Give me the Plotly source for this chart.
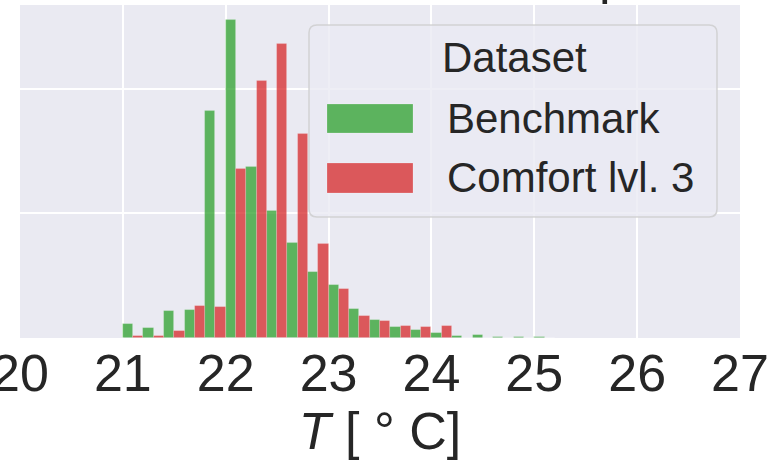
import plotly.graph_objects as go

# ---------------- data ----------------
bin_centers = [21.1, 21.3, 21.5, 21.7, 21.9, 22.1, 22.3, 22.5, 22.7, 22.9,
               23.1, 23.3, 23.5, 23.7, 23.9, 24.1, 24.3, 24.5, 24.7, 24.9, 25.1]
benchmark = [0.057, 0.039, 0.107, 0.112, 0.910, 1.276, 0.686, 0.510, 0.383, 0.265,
             0.212, 0.116, 0.072, 0.044, 0.031, 0.021, 0.008, 0.012, 0.004, 0.004, 0.004]
comfort3 = [0.008, 0.008, 0.027, 0.130, 0.126, 0.680, 1.033, 1.182, 0.820, 0.378,
            0.198, 0.090, 0.067, 0.049, 0.044, 0.049, 0.0, 0.0, 0.0, 0.0, 0.0]
series_names = ["Benchmark", "Comfort lvl. 3"]
legend_title = "Dataset"
x_ticks = [20, 21, 22, 23, 24, 25, 26, 27]
x_title = "<i>T</i> [ ° C]"
title_tail = "p"  # only the descender of the (cropped) chart title is visible

GREEN = "rgba(44,160,44,0.75)"
RED = "rgba(214,39,40,0.75)"
BG = "#EAEAF2"
TXT = "#262626"
FONT = "Liberation Sans, Arial, sans-serif"

W, H = 782, 472
L, R, T, B = 20, 740, 5, 338  # plot area in pixels


def px(x):
    return (x - L) / (R - L)


def py(y):
    return (B - y) / (B - T)


fig = go.Figure()
for name, vals, col in [(series_names[0], benchmark, GREEN), (series_names[1], comfort3, RED)]:
    fig.add_trace(go.Bar(x=bin_centers, y=vals, name=name, marker=dict(
        color=col, line=dict(width=0.8, color="rgba(255,255,255,0.25)")), showlegend=False))

# ---------- custom legend (matplotlib-like, large swatches) ----------
shapes = []
bx0, bx1, by0, by1, rad = 309, 717, 25, 217, 8
path = (f"M {px(bx0 + rad)} {py(by0)} L {px(bx1 - rad)} {py(by0)} "
        f"Q {px(bx1)} {py(by0)} {px(bx1)} {py(by0 + rad)} "
        f"L {px(bx1)} {py(by1 - rad)} Q {px(bx1)} {py(by1)} {px(bx1 - rad)} {py(by1)} "
        f"L {px(bx0 + rad)} {py(by1)} Q {px(bx0)} {py(by1)} {px(bx0)} {py(by1 - rad)} "
        f"L {px(bx0)} {py(by0 + rad)} Q {px(bx0)} {py(by0)} {px(bx0 + rad)} {py(by0)} Z")
shapes.append(dict(type="path", xref="paper", yref="paper", path=path,
                   fillcolor="rgba(234,234,242,0.8)", line=dict(color="rgba(204,204,204,0.8)", width=1.5),
                   layer="above"))
swatches = [(104, 133, GREEN), (163, 193, RED)]
for (y0, y1, col) in swatches:
    shapes.append(dict(type="rect", xref="paper", yref="paper", x0=px(327), x1=px(413),
                       y0=py(y1), y1=py(y0), fillcolor=col, line=dict(width=0.8, color="rgba(255,255,255,0.25)"),
                       layer="above"))

annotations = [
    dict(text=legend_title, xref="paper", yref="paper", x=px(514), y=py(58), xanchor="center",
         yanchor="middle", showarrow=False, font=dict(size=42, color=TXT, family=FONT)),
    dict(text=series_names[0], xref="paper", yref="paper", x=px(445), y=py(119), xanchor="left",
         yanchor="middle", showarrow=False, font=dict(size=42, color=TXT, family=FONT)),
    dict(text=series_names[1], xref="paper", yref="paper", x=px(445), y=py(178), xanchor="left",
         yanchor="middle", showarrow=False, font=dict(size=42, color=TXT, family=FONT)),
    dict(text=title_tail, xref="paper", yref="paper", x=px(597), y=py(5.8), xanchor="left",
         yanchor="bottom", showarrow=False, font=dict(size=52, color=TXT, family=FONT)),
]

fig.update_layout(
    width=W, height=H,
    margin=dict(l=L, r=W - R, t=T, b=H - B, pad=0, autoexpand=False),
    paper_bgcolor="white", plot_bgcolor=BG,
    barmode="group", bargap=0, bargroupgap=0,
    showlegend=False,
    font=dict(family=FONT, color=TXT),
    shapes=shapes, annotations=annotations,
    xaxis=dict(range=[20, 27], tickvals=x_ticks, ticktext=[str(v) for v in x_ticks],
               ticklabeloverflow="allow", automargin=False,
               showgrid=True, gridcolor="white", gridwidth=1.5, zeroline=False,
               ticks="", showline=False, tickfont=dict(size=52, color=TXT, family=FONT),
               title=dict(text=x_title, font=dict(size=52, color=TXT, family=FONT), standoff=6)),
    yaxis=dict(range=[0, 1.337], dtick=0.5, showticklabels=False, showgrid=True, automargin=False,
               gridcolor="white", gridwidth=1.5, zeroline=False, ticks="", showline=False),
)

fig.write_html("out.html")
